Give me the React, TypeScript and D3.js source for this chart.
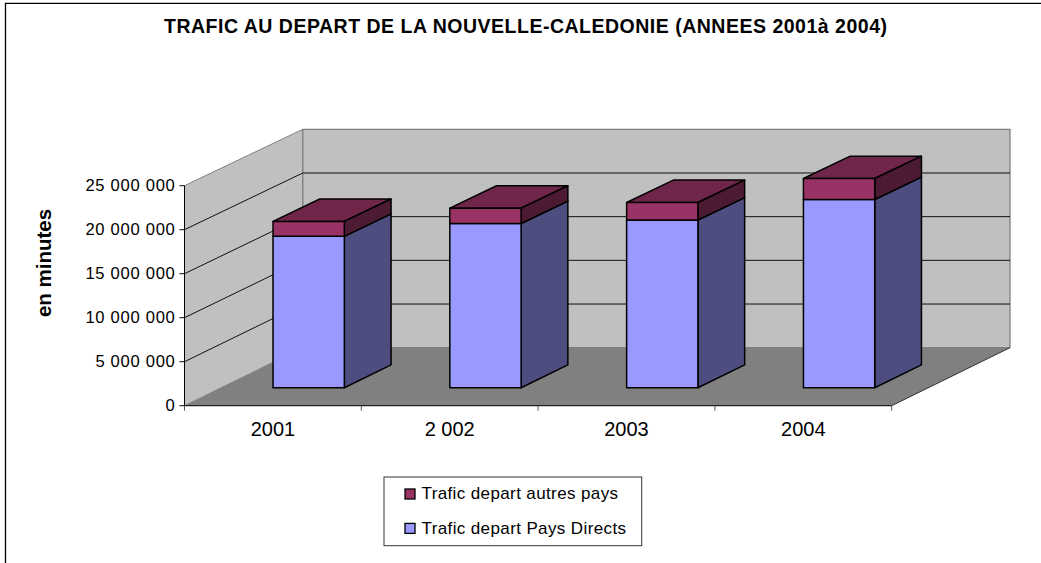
import React from "react";
import * as d3 from "d3";

const categories = ["2001", "2 002", "2003", "2004"];
const paysDirects = [17240000, 18700000, 19100000, 21440000];
const autresPays = [1700000, 1750000, 2000000, 2390000];
const yTicks = [0, 5000000, 10000000, 15000000, 20000000, 25000000];
const yTickLabels = ["0", "5 000 000", "10 000 000", "15 000 000", "20 000 000", "25 000 000"];
const seriesNames = ["Trafic depart autres pays", "Trafic depart Pays Directs"];
const titleText = "TRAFIC AU DEPART DE LA NOUVELLE-CALEDONIE (ANNEES 2001à 2004)";
const yTitle = "en minutes";

const FONT = "'Liberation Sans', Arial, sans-serif";
const W = 1041, H = 563;
const x = d3.scaleBand<string>().domain(categories).range([184.5, 891.7]).paddingInner(0).paddingOuter(0);
const y = d3.scaleLinear().domain([0, 25000000]).range([405.7, 185.7]);
// depth axis: 0 front, 1 back of the floor
const depthX = d3.scaleLinear().domain([0, 1]).range([0, 118.3]);
const depthY = d3.scaleLinear().domain([0, 1]).range([0, -58]);
const shrink = d3.scaleLinear().domain([0, 1]).range([1, 0.9927]);
const p = (px: number, v: number, z: number): [number, number] => [
  px + depthX(z),
  y(0) + (y(v) - y(0)) * shrink(z) + depthY(z),
];
const poly = (pts: [number, number][]) => d3.line()(pts)! + "Z";

const BAR_W = 71.3;
const Z0 = 0.31, Z1 = 0.705;
const stack = [
  { vals: paysDirects, base: paysDirects.map(() => 0), front: "#9999ff", side: "#4d4d80", top: "#4d4d80" },
  { vals: autresPays, base: paysDirects, front: "#993366", side: "#4d1a33", top: "#70264b" },
];

export default function App() {
  const x0 = x.range()[0], x1 = x.range()[1];
  const vMax = 25000000;
  return (
    <svg width={W} height={H} style={{ position: "absolute", left: 0, top: 0, background: "#fff" }} fontFamily={FONT}>
      <line x1={5.5} x2={5.5} y1={3} y2={H} stroke="#000" strokeWidth={1.3} />
      <line x1={5} x2={W} y1={3.3} y2={3.3} stroke="#000" strokeWidth={1.3} />
      <text x={164} y={32.7} fontSize={19.5} fontWeight="bold" fill="#000" textLength={723} lengthAdjust="spacing">{titleText}</text>

      {/* walls and floor */}
      <path d={poly([p(x0, 0, 0), p(x0, 0, 1), p(x0, vMax, 1), p(x0, vMax, 0)])} fill="#c0c0c0" stroke="#808080" strokeWidth={1} />
      <path d={poly([p(x0, 0, 1), p(x1, 0, 1), p(x1, vMax, 1), p(x0, vMax, 1)])} fill="#c0c0c0" stroke="#808080" strokeWidth={1.3} />
      <path d={poly([p(x0, 0, 0), p(x1, 0, 0), p(x1, 0, 1), p(x0, 0, 1)])} fill="#808080" />
      <line x1={p(x1, 0, 0)[0]} y1={p(x1, 0, 0)[1]} x2={p(x1, 0, 1)[0]} y2={p(x1, 0, 1)[1]} stroke="#333" strokeWidth={1} />

      {/* gridlines */}
      {yTicks.slice(1, -1).map((t) => (
        <path key={t} d={d3.line()([p(x0, t, 0), p(x0, t, 1), p(x1, t, 1)])!} fill="none" stroke="#111" strokeWidth={1} />
      ))}

      {/* bars */}
      {categories.map((c, i) => {
        const left = x(c)! + 88.4 - BAR_W / 2 - 0.9;
        return (
          <g key={c} stroke="#000" strokeWidth={1.5} strokeLinejoin="round">
            {stack.map((s, si) => {
              const a = s.base[i];
              const b = a + s.vals[i];
              const r = left + BAR_W;
              return (
                <g key={si}>
                  <path d={poly([p(left, b, Z0), p(r, b, Z0), p(r, b, Z1), p(left, b, Z1)])} fill={s.top} />
                  <path d={poly([p(r, a, Z0), p(r, a, Z1), p(r, b, Z1), p(r, b, Z0)])} fill={s.side} />
                  <path d={poly([p(left, a, Z0), p(r, a, Z0), p(r, b, Z0), p(left, b, Z0)])} fill={s.front} />
                </g>
              );
            })}
          </g>
        );
      })}

      {/* value axis */}
      <line x1={x0} x2={x0} y1={y(vMax)} y2={y(0) + 4} stroke="#000" strokeWidth={1} />
      {yTicks.map((t, i) => (
        <g key={t}>
          <line x1={x0 - 5} x2={x0} y1={y(t)} y2={y(t)} stroke="#000" strokeWidth={1} />
          <text x={175.5} y={y(t) + 5.5} textAnchor="end" fontSize={16.6} fill="#000" letterSpacing={0.7}>{yTickLabels[i]}</text>
        </g>
      ))}
      <text transform="translate(50.5,263) rotate(-90)" textAnchor="middle" fontSize={20.5} fontWeight="bold" fill="#000">{yTitle}</text>

      {/* category axis */}
      <line x1={x0} x2={x1} y1={y(0)} y2={y(0)} stroke="#222" strokeWidth={1.3} />
      {d3.range(categories.length + 1).map((i) => {
        const tx = x0 + i * x.bandwidth();
        return <line key={i} x1={tx} x2={tx} y1={y(0)} y2={y(0) + 5} stroke="#555" strokeWidth={1} />;
      })}
      {categories.map((c) => (
        <text key={c} x={x(c)! + x.bandwidth() / 2} y={436} textAnchor="middle" fontSize={20} fill="#000">{c}</text>
      ))}

      {/* legend */}
      <rect x={384} y={477} width={257.7} height={68.7} fill="#fff" stroke="#333" strokeWidth={1} />
      {seriesNames.map((n, i) => (
        <g key={n}>
          <rect x={405} y={489 + i * 34.4} width={10} height={10} fill={i === 0 ? stack[1].front : stack[0].front} stroke="#000" strokeWidth={1.3} />
          <text x={421.5} y={499.3 + i * 34.7} fontSize={17} fill="#000" textLength={i === 0 ? 196.5 : 204.5} lengthAdjust="spacing">{n}</text>
        </g>
      ))}
    </svg>
  );
}
